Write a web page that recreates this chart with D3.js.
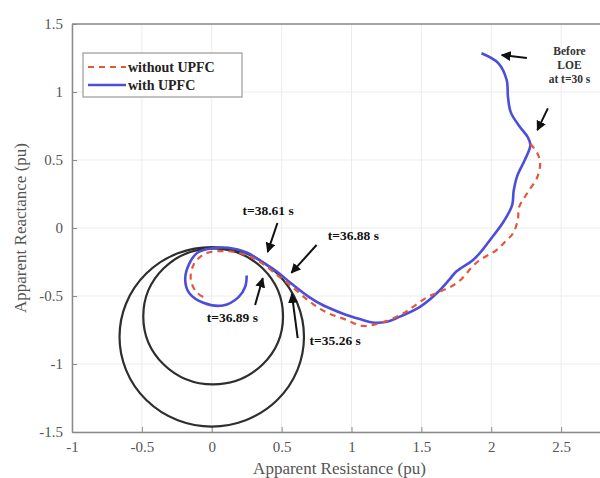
<!DOCTYPE html>
<html>
<head>
<meta charset="utf-8">
<script src="https://cdn.jsdelivr.net/npm/d3@7"></script>
<style>
  body { margin: 0; background: #fff; }
  svg { display: block; font-family: "Liberation Serif", "DejaVu Serif", serif; }
</style>
</head>
<body>
<svg id="chart" width="600" height="478"></svg>
<script>
// apparent impedance trajectories (R, X) in pu
const withUpfc = [
  [1.93, 1.285], [2.05, 1.213], [2.11, 1.09], [2.12, 0.96], [2.14, 0.85], [2.20, 0.75],
  [2.26, 0.67], [2.28, 0.61], [2.24, 0.50], [2.185, 0.38], [2.16, 0.27], [2.15, 0.17],
  [2.09, 0.05], [1.99, -0.09], [1.93, -0.17], [1.87, -0.235], [1.75, -0.32], [1.70, -0.38],
  [1.61, -0.48], [1.49, -0.58], [1.35, -0.65], [1.25, -0.69], [1.15, -0.695], [1.06, -0.67],
  [0.94, -0.63], [0.80, -0.57], [0.70, -0.51], [0.56, -0.40], [0.465, -0.32], [0.36, -0.25],
  [0.25, -0.18], [0.12, -0.145], [0.0, -0.15], [-0.10, -0.18], [-0.16, -0.26], [-0.19, -0.38],
  [-0.16, -0.48], [-0.06, -0.55], [0.08, -0.57], [0.19, -0.51], [0.24, -0.43], [0.25, -0.35]
];
const withoutUpfc = [
  [2.28, 0.62], [2.33, 0.55], [2.35, 0.48], [2.33, 0.375], [2.26, 0.26], [2.20, 0.155],
  [2.19, 0.06], [2.155, -0.04], [2.10, -0.10], [2.04, -0.16], [1.90, -0.25], [1.76, -0.40],
  [1.65, -0.46], [1.54, -0.51], [1.44, -0.58], [1.35, -0.64], [1.20, -0.70], [1.08, -0.72],
  [0.95, -0.67], [0.82, -0.62], [0.70, -0.54], [0.56, -0.42], [0.46, -0.34], [0.36, -0.26],
  [0.25, -0.20], [0.10, -0.17], [-0.05, -0.19], [-0.13, -0.27], [-0.15, -0.38], [-0.11, -0.47],
  [-0.04, -0.52]
];
// relay characteristic circles: centre R, centre X, radius
const relayCircles = [
  [0.0, -0.80, 0.66],
  [0.01, -0.65, 0.50]
];
const xTicks = [-1, -0.5, 0, 0.5, 1, 1.5, 2, 2.5, 3];
const yTicks = [-1.5, -1, -0.5, 0, 0.5, 1, 1.5];
const seriesNames = ["without UPFC", "with UPFC"];
// annotations: label, text position, arrow from, arrow to (data units)
const notes = [
  { lines: ["t=38.61 s"], at: [0.22, 0.096], from: [0.47, 0.037], to: [0.40, -0.176] },
  { lines: ["t=36.88 s"], at: [0.83, -0.088], from: [0.75, -0.125], to: [0.57, -0.33] },
  { lines: ["t=36.89 s"], at: [-0.036, -0.69], from: [0.31, -0.566], to: [0.365, -0.37] },
  { lines: ["t=35.26 s"], at: [0.70, -0.86], from: [0.615, -0.81], to: [0.573, -0.485] }
];
const beforeNote = { lines: ["Before", "LOE", "at t=30 s"], at: [2.56, 1.27] };
const beforeArrows = [
  { from: [2.255, 1.25], to: [2.075, 1.272] },
  { from: [2.405, 0.88], to: [2.33, 0.72] }
];

const margin = { left: 72, top: 24, bottom: 46 };
const width = 600, height = 478;
const plotRight = 631;

const svg = d3.select("#chart");

const x = d3.scaleLinear().domain([-1, 3]).range([margin.left, plotRight]);
const y = d3.scaleLinear().domain([-1.5, 1.5]).range([height - margin.bottom, margin.top]);

// grid
svg.append("g").selectAll("line").data(xTicks).join("line")
  .attr("x1", d => x(d)).attr("x2", d => x(d))
  .attr("y1", y(-1.5)).attr("y2", y(1.5))
  .attr("stroke", "#ececec").attr("stroke-width", 1);
svg.append("g").selectAll("line").data(yTicks).join("line")
  .attr("x1", x(-1)).attr("x2", x(3))
  .attr("y1", d => y(d)).attr("y2", d => y(d))
  .attr("stroke", "#ececec").attr("stroke-width", 1);

// axes
const fmt = d => String(d);
const xAxis = svg.append("g")
  .attr("transform", `translate(0,${y(-1.5)})`)
  .call(d3.axisBottom(x).tickValues(xTicks).tickSizeInner(-5).tickSizeOuter(0).tickPadding(9).tickFormat(fmt));
const yAxis = svg.append("g")
  .attr("transform", `translate(${x(-1)},0)`)
  .call(d3.axisLeft(y).tickValues(yTicks).tickSizeInner(-5).tickSizeOuter(0).tickPadding(9).tickFormat(fmt));
[xAxis, yAxis].forEach(a => {
  a.select(".domain").attr("stroke", "#8a8a8a").attr("stroke-width", 1.5);
  a.selectAll(".tick line").attr("stroke", "#8a8a8a");
  a.selectAll(".tick text").attr("fill", "#555").style("font-size", "15px")
    .style("font-family", "'Liberation Serif', serif");
});
xAxis.selectAll(".tick text").filter(d => d === 3).remove();
// top border
svg.append("line")
  .attr("x1", x(-1)).attr("x2", x(3)).attr("y1", y(1.5)).attr("y2", y(1.5))
  .attr("stroke", "#8a8a8a").attr("stroke-width", 1.5);

// axis titles
svg.append("text")
  .attr("x", (x(-1) + x(3)) / 2 - 12).attr("y", 474)
  .attr("text-anchor", "middle").attr("fill", "#555").style("font-size", "17px")
  .text("Apparent Resistance (pu)");
svg.append("text")
  .attr("transform", `translate(26,${(y(-1.5) + y(1.5)) / 2}) rotate(-90)`)
  .attr("text-anchor", "middle").attr("fill", "#555").style("font-size", "17px")
  .text("Apparent Reactance (pu)");

// relay circles
svg.append("g").selectAll("ellipse").data(relayCircles).join("ellipse")
  .attr("cx", d => x(d[0])).attr("cy", d => y(d[1]))
  .attr("rx", d => x(d[2]) - x(0)).attr("ry", d => y(0) - y(d[2]))
  .attr("fill", "none").attr("stroke", "#2e2e2e").attr("stroke-width", 2.2);

const line = d3.line().x(d => x(d[0])).y(d => y(d[1])).curve(d3.curveCatmullRom);

svg.append("path").datum(withUpfc)
  .attr("d", line).attr("fill", "none")
  .attr("stroke", "#4d4ddb").attr("stroke-width", 2.6);
svg.append("path").datum(withoutUpfc)
  .attr("d", line).attr("fill", "none")
  .attr("stroke", "#e4573d").attr("stroke-width", 2.2).attr("stroke-dasharray", "6,5");

// arrow marker
svg.append("defs").append("marker")
  .attr("id", "head").attr("viewBox", "0 0 10 10")
  .attr("refX", 9).attr("refY", 5)
  .attr("markerWidth", 5).attr("markerHeight", 5)
  .attr("orient", "auto")
  .append("path").attr("d", "M0,0 L10,5 L0,10 z").attr("fill", "#111");

const arrows = notes.map(n => ({ from: n.from, to: n.to })).concat(beforeArrows);
svg.append("g").selectAll("line").data(arrows).join("line")
  .attr("x1", d => x(d.from[0])).attr("y1", d => y(d.from[1]))
  .attr("x2", d => x(d.to[0])).attr("y2", d => y(d.to[1]))
  .attr("stroke", "#111").attr("stroke-width", 2)
  .attr("marker-end", "url(#head)");

svg.append("g").selectAll("text").data(notes).join("text")
  .attr("x", d => x(d.at[0])).attr("y", d => y(d.at[1]))
  .attr("fill", "#111").style("font-size", "13.5px").style("font-weight", "bold")
  .text(d => d.lines[0]);

svg.append("g").selectAll("text").data(beforeNote.lines).join("text")
  .attr("x", x(beforeNote.at[0])).attr("y", (d, i) => y(beforeNote.at[1]) + i * 14)
  .attr("text-anchor", "middle").attr("fill", "#333")
  .style("font-size", "11.5px").style("font-weight", "bold")
  .text(d => d);

// legend
const legend = svg.append("g").attr("transform", "translate(83,53)");
legend.append("rect").attr("width", 159).attr("height", 44)
  .attr("fill", "#fff").attr("stroke", "#9a9a9a").attr("stroke-width", 1.2);
const legendStyles = [
  { color: "#e4573d", dash: "6,5", w: 2.2 },
  { color: "#4d4ddb", dash: null, w: 2.6 }
];
seriesNames.forEach((name, i) => {
  const yy = 14 + i * 18;
  legend.append("line").attr("x1", 5).attr("x2", 43).attr("y1", yy).attr("y2", yy)
    .attr("stroke", legendStyles[i].color).attr("stroke-width", legendStyles[i].w)
    .attr("stroke-dasharray", legendStyles[i].dash);
  legend.append("text").attr("x", 45).attr("y", yy + 5)
    .attr("fill", "#222").style("font-size", "14px").style("font-weight", "bold")
    .text(name);
});
</script>
</body>
</html>
